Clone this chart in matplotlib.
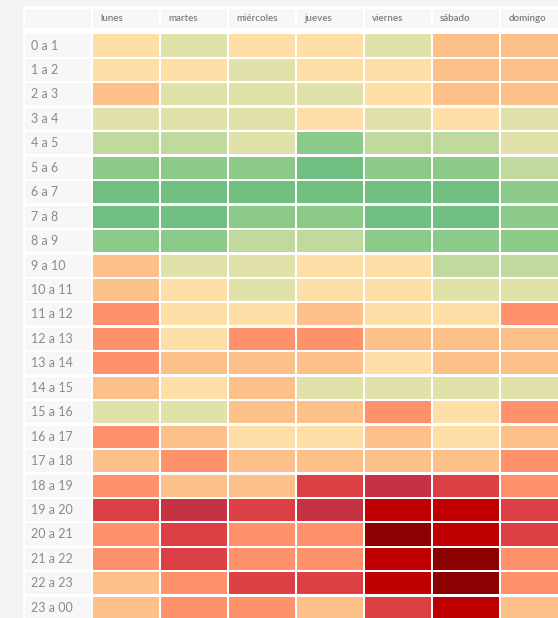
import numpy as np
import matplotlib
matplotlib.use("Agg")
from matplotlib import pyplot as plt
from matplotlib.patches import Rectangle
from matplotlib.colors import ListedColormap

days = ['lunes', 'martes', 'miércoles', 'jueves', 'viernes', 'sábado', 'domingo']
hours = ['0 a 1', '1 a 2', '2 a 3', '3 a 4', '4 a 5', '5 a 6', '6 a 7', '7 a 8',
         '8 a 9', '9 a 10', '10 a 11', '11 a 12', '12 a 13', '13 a 14', '14 a 15',
         '15 a 16', '16 a 17', '17 a 18', '18 a 19', '19 a 20', '20 a 21',
         '21 a 22', '22 a 23', '23 a 00']

# level of each cell (0 = dark green ... 10 = dark red), one row per hour
levels = np.array([
    [4, 3, 4, 4, 3, 5, 5],
    [4, 4, 3, 4, 4, 5, 5],
    [5, 3, 3, 3, 4, 5, 5],
    [3, 3, 3, 4, 3, 4, 3],
    [2, 2, 3, 1, 2, 2, 3],
    [1, 1, 1, 0, 1, 1, 2],
    [0, 0, 0, 0, 0, 0, 1],
    [0, 0, 1, 1, 0, 0, 1],
    [1, 1, 2, 2, 1, 1, 1],
    [5, 3, 3, 4, 4, 2, 2],
    [5, 4, 3, 4, 4, 3, 3],
    [6, 4, 4, 5, 4, 4, 6],
    [6, 4, 6, 6, 5, 5, 5],
    [6, 5, 5, 5, 4, 5, 5],
    [5, 4, 5, 3, 3, 3, 3],
    [3, 3, 5, 5, 6, 4, 6],
    [6, 5, 4, 4, 5, 4, 5],
    [5, 6, 5, 5, 5, 5, 6],
    [6, 5, 5, 7, 8, 7, 6],
    [7, 8, 7, 8, 9, 9, 7],
    [6, 7, 6, 6, 10, 9, 7],
    [6, 7, 6, 6, 9, 10, 6],
    [5, 6, 7, 7, 9, 10, 6],
    [5, 6, 6, 5, 7, 9, 5],
])

palette = ['#71be81', '#8bca89', '#c0da9e', '#e0e2aa', '#fedea6', '#fec089',
           '#ff916b', '#dc4045', '#c43244', '#c00000', '#8b0000']
cmap = ListedColormap(palette)

outer_bg = '#f4f3f1'
label_bg = '#f7f7f7'
label_col = '#8a8a8a'

fig = plt.figure(figsize=(5.58, 6.18), dpi=100, facecolor=outer_bg)
ax = fig.add_axes([0, 0, 1, 1])
ax.set_facecolor(outer_bg)
ax.set_xlim(-126 / 68, (558 - 126) / 68)
ax.set_ylim((618 - 45.5) / 24.45, -45.5 / 24.45)
ax.axis('off')

# white panel behind the table
ax.add_patch(Rectangle((-1.515, -1.616), 10, 30, facecolor='white', edgecolor='none'))

cw, ch = 0.97, 0.9
nrows, ncols = levels.shape

# header row
ax.add_patch(Rectangle((-1 - cw / 2, -1.493), cw, 0.777, facecolor=label_bg, edgecolor='none'))
for j, d in enumerate(days):
    ax.add_patch(Rectangle((j - cw / 2, -1.493), cw, 0.777, facecolor=label_bg, edgecolor='none'))
    ax.text(j - 0.38, -1.1, d, ha='left', va='center', fontsize=7, color='#7a7a7a',
            family='Lato', fontweight='semibold')

# body
for i, h in enumerate(hours):
    ax.add_patch(Rectangle((-1 - cw / 2, i - ch / 2), cw, ch, facecolor=label_bg, edgecolor='none'))
    ax.text(-1.39, i, h, ha='left', va='center', fontsize=9, color=label_col, family='Lato')
    for j in range(ncols):
        ax.add_patch(Rectangle((j - cw / 2, i - ch / 2), cw, ch,
                               facecolor=cmap(levels[i, j] / (len(palette) - 1)),
                               edgecolor='none'))

fig.savefig('out.png', dpi=100, facecolor=outer_bg)
